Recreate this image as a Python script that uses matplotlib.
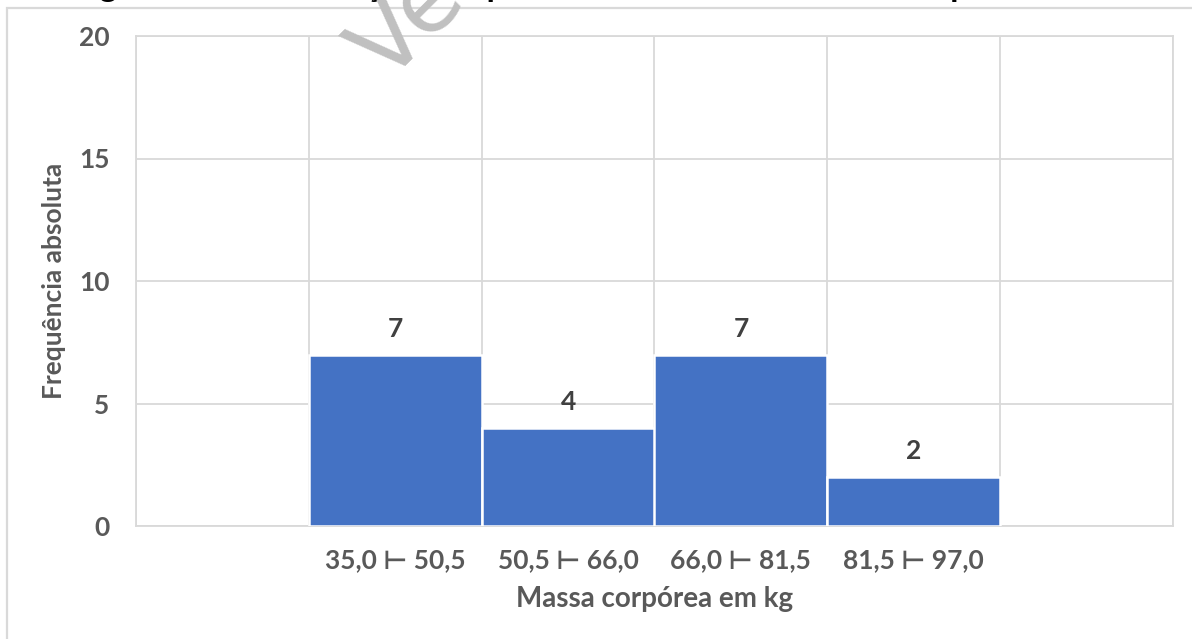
import matplotlib
matplotlib.use("Agg")
import matplotlib.pyplot as plt
from matplotlib.patches import Rectangle
from matplotlib.ticker import FixedLocator

# Frequency table of body mass (kg)
classes = ["35,0 \u22a2 50,5", "50,5 \u22a2 66,0", "66,0 \u22a2 81,5", "81,5 \u22a2 97,0"]
frequencies = [7, 4, 7, 2]
y_ticks = [0, 5, 10, 15, 20]

title = "Histograma da distribuição dos pacientes de acordo com o seu peso"
xlabel = "Massa corpórea em kg"
ylabel = "Frequência absoluta"

FONT = ["Lato", "DejaVu Sans"]
plt.rcParams["font.family"] = FONT

W, H = 1192, 639
fig = plt.figure(figsize=(W / 100, H / 100), dpi=100)
fig.patch.set_facecolor("white")

# chart-area frame
fig.patches.append(Rectangle((7 / W, -0.05), 1.2, (H - 8) / H + 0.05, fill=False,
                             edgecolor="#d9d9d9", lw=1.6, transform=fig.transFigure,
                             zorder=0))

left, right, top, bottom = 136, 1173, 36, 526
ax = fig.add_axes([left / W, (H - bottom) / H, (right - left) / W, (bottom - top) / H])

# one empty slot on each side of the four classes
positions = list(range(1, len(classes) + 1))
ax.bar(positions, frequencies, width=1.0, color="#4472C4", edgecolor="white",
       linewidth=1.8, zorder=3)

for x, v in zip(positions, frequencies):
    ax.annotate(str(v), (x, v), xytext=(0, 10), textcoords="offset points",
                ha="center", va="bottom", fontsize=19, fontweight="bold",
                color="#404040")

ax.set_xlim(-0.5, len(classes) + 1.5)
ax.set_ylim(0, 20)
ax.set_yticks(y_ticks)
ax.set_xticks(positions)
ax.set_xticklabels(classes)
ax.xaxis.set_minor_locator(FixedLocator([i - 0.5 for i in range(len(classes) + 3)]))

ax.grid(axis="y", which="major", color="#d9d9d9", lw=1.3, zorder=0)
ax.grid(axis="x", which="minor", color="#d9d9d9", lw=1.3, zorder=0)
ax.grid(axis="x", which="major", visible=False)
for s in ax.spines.values():
    s.set_color("#d9d9d9")
    s.set_linewidth(1.3)

ax.tick_params(axis="both", which="both", length=0)
ax.tick_params(axis="y", labelsize=19, labelcolor="#595959", pad=19)
ax.tick_params(axis="x", labelsize=19, labelcolor="#595959", pad=16)
for lab in ax.get_xticklabels() + ax.get_yticklabels():
    lab.set_fontweight("bold")

ax.set_xlabel(xlabel, fontsize=20, fontweight="bold", color="#595959", labelpad=10)
ax.set_ylabel(ylabel, fontsize=19, fontweight="bold", color="#595959", labelpad=9)

# title sits mostly above the visible area
fig.text(19 / W, 1 + 3 / H, title, ha="left", va="baseline", fontsize=24,
         fontweight="bold", color="black")

# diagonal watermark
fig.text(387 / W, 1 - 85 / H, "Versão preliminar", rotation=45,
         rotation_mode="anchor", ha="left", va="baseline", fontsize=68,
         color="#c0c0c0", family="DejaVu Sans", zorder=10)

fig.savefig("out.png", dpi=100, facecolor="white")
